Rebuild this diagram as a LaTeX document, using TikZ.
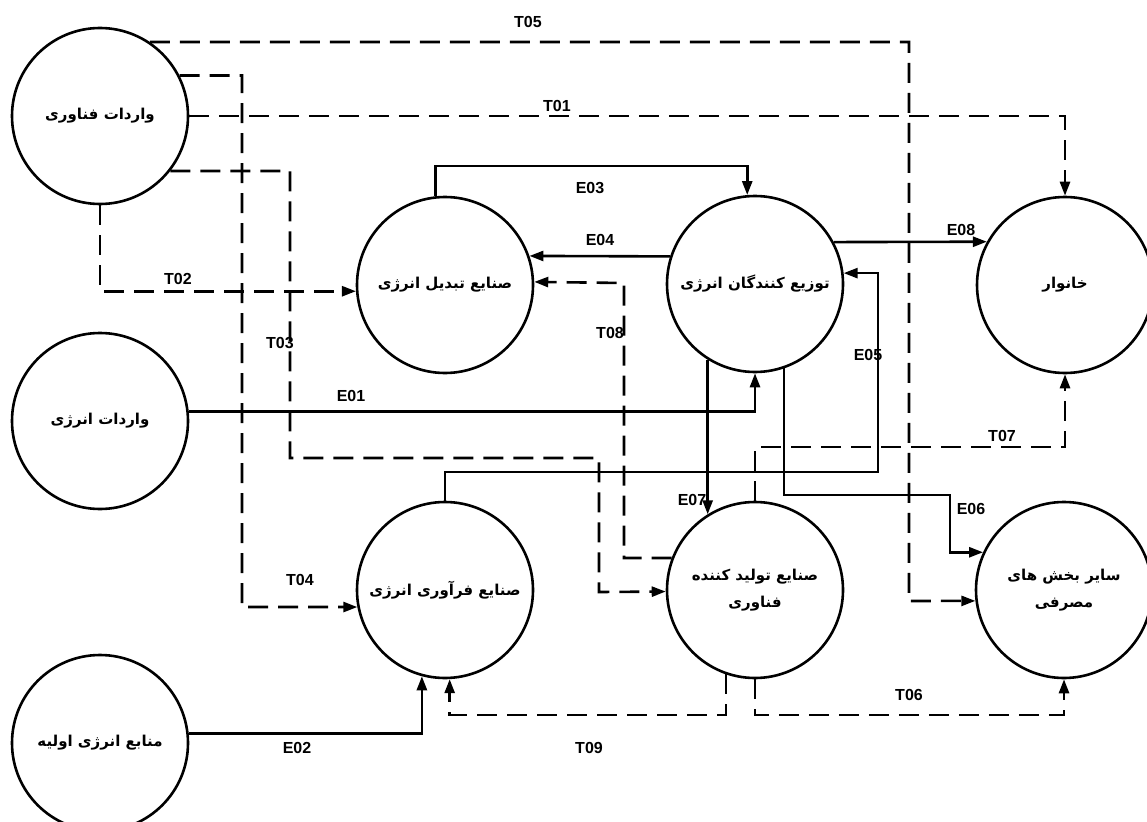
\documentclass[tikz,border=0pt]{standalone}
\usepackage{fontspec}
\setmainfont{Liberation Sans}
\newfontfamily\fa[Script=Arabic]{DejaVu Sans}
\TeXXeTstate=1
\usetikzlibrary{arrows.meta,calc}
\begin{document}
\begin{tikzpicture}[x=1pt,y=-1pt,
  ent/.style={circle,draw,line width=2.6pt,minimum size=176pt,inner sep=0pt,
    font=\fa\bfseries\fontsize{15}{27}\selectfont,align=center},
  eline/.style={line width=2.6pt,-{Triangle[length=14pt,width=10pt]}},
  tline/.style={line width=2.6pt,dash pattern=on 20pt off 10pt,-{Triangle[length=14pt,width=10pt]}},
  lab/.style={font=\bfseries\fontsize{16}{18}\selectfont,inner sep=1pt}]
\fill[white] (0,0) rectangle (1147,821);
\useasboundingbox (0,0) rectangle (1147,821);
% entities
\node[ent] (tech) at (100,116) {\beginR واردات فناوری\endR};
\node[ent] (enimp) at (100,421) {\beginR واردات انرژی\endR};
\node[ent] (prim) at (100,743) {\beginR منابع انرژی اولیه\endR};
\node[ent] (conv) at (445,285) {\beginR صنایع تبدیل انرژی\endR};
\node[ent] (dist) at (755,284) {\beginR توزیع کنندگان انرژی\endR};
\node[ent] (house) at (1065,285) {\beginR خانوار\endR};
\node[ent] (proc) at (445,590) {\beginR صنایع فرآوری انرژی\endR};
\node[ent] (tp) at (755,590) {\beginR صنایع تولید کننده\endR\\\beginR فناوری\endR};
\node[ent] (oth) at (1064,590) {\beginR سایر بخش های\endR\\\beginR مصرفی\endR};
% technology flows (dashed)
\draw[tline] (tech.56) -| (909,601) -- (oth.187);
\draw[tline] (tech.east) -| (house.north);
\draw[tline] (tech.27) -| (242,607) -- (proc.191);
\draw[tline] (tech.-38) -| (290,458) -| (599,592) -- (tp.181);
\draw[tline] (tech.south) |- (conv.184);
\draw[tline] (tp.159) -| (624,283) -- (conv.2);
\draw[tline] (tp.north) |- (1065,447) -- (house.south);
\draw[tline] (tp.south) -- (tp.south |- 0,715) -| (oth.south);
\draw[tline] (tp.251) -- (tp.251 |- 0,715) -| (proc.273);
% energy flows (solid)
\draw[eline] (conv.96) -- (conv.96 |- 0,166) -| (dist.95);
\draw[eline] (dist.162) -- (conv.19);
\draw[eline] (dist.28) -- (house.151);
\draw[eline] (proc.north) -- (proc.north |- 0,472) -| (dist.7 -| 878,0) -- (dist.7);
\draw[eline] (enimp.6) -| (dist.south);
\draw[eline] (dist.238) -- (tp.122);
\draw[eline] (dist.289) -- (dist.289 |- 0,495) -| (oth.155 -| 950,0) -- (oth.155);
\draw[eline] (prim.6) -| (proc.255);
% labels
\node[lab] (lT05) at (528,22) {T05};
\node[lab] (lT01) at (557,106) {T01};
\node[lab] (lT02) at (178,279) {T02};
\node[lab] (lT03) at (280,343) {T03};
\node[lab] (lT04) at (300,580) {T04};
\node[lab] (lE03) at (590,188) {E03};
\node[lab] (lE04) at (600,240) {E04};
\node[lab] (lT08) at (610,333) {T08};
\node[lab] (lE08) at (961,230) {E08};
\node[lab] (lE05) at (868,355) {E05};
\node[lab] (lE01) at (351,396) {E01};
\node[lab] (lT07) at (1002,436) {T07};
\node[lab] (lE07) at (692,500) {E07};
\node[lab] (lE06) at (971,509) {E06};
\node[lab] (lT06) at (909,695) {T06};
\node[lab] (lT09) at (589,748) {T09};
\node[lab] (lE02) at (297,748) {E02};
\end{tikzpicture}
\end{document}
